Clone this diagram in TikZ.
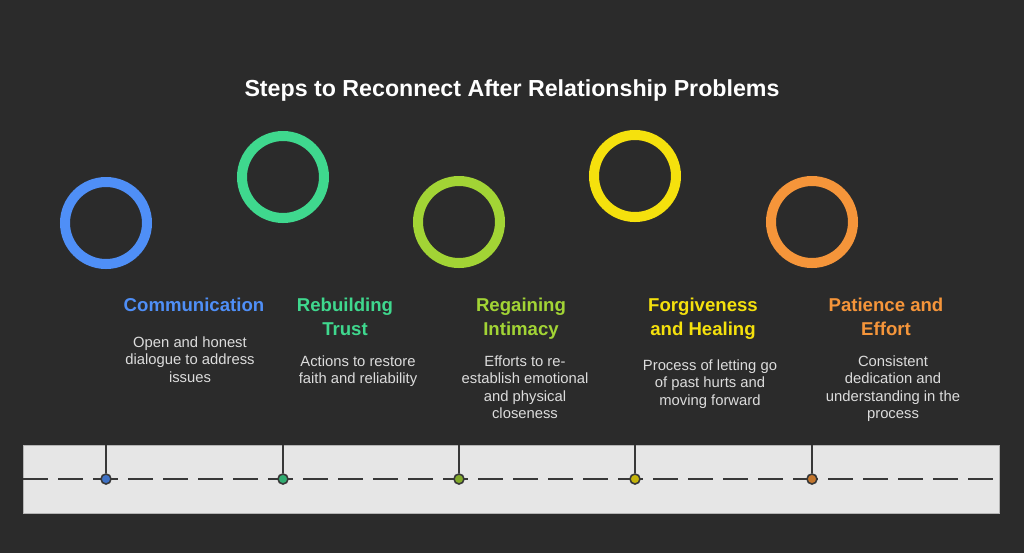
\documentclass[tikz,border=0pt]{standalone}
\usepackage{fontspec}
\setmainfont{Liberation Sans}
\usetikzlibrary{positioning}
\definecolor{bg}{HTML}{2B2B2B}
\definecolor{bandfill}{HTML}{E6E6E6}
\definecolor{bandline}{HTML}{B5B5B5}
\definecolor{pinline}{HTML}{383838}
\definecolor{descgray}{HTML}{DCDCDC}
\definecolor{cblue}{HTML}{4F8FF7}
\definecolor{cgreen}{HTML}{3FD88E}
\definecolor{clime}{HTML}{A2D435}
\definecolor{cyellow}{HTML}{F5E10D}
\definecolor{corange}{HTML}{F5953A}

\begin{document}
\begin{tikzpicture}
		[x=0.5pt, y=-0.5pt,
		ring/.style={circle, draw=#1, line width=5pt, minimum size=41pt, inner sep=0pt},
		head/.style={text=#1, font=\bfseries\fontsize{9.3}{12}\selectfont, align=center, anchor=north, inner sep=0pt},
		desc/.style={text=descgray, font=\fontsize{7.4}{8.75}\selectfont, align=center, anchor=north, inner sep=0pt},
		pin/.style={circle, draw=pinline, fill=#1!80!black, line width=0.8pt, minimum size=5pt, inner sep=0pt}]
		\fill[bg] (0,0) rectangle (1024,553);
		\useasboundingbox (0,0) rectangle (1024,553);
		\node[text=white, font=\bfseries\fontsize{11.6}{13}\selectfont] (title) at (512,90) {Steps to Reconnect After Relationship Problems};
		\node[ring=cblue] (c1) at (106,223) {};
		\node[ring=cgreen] (c2) at (283,177) {};
		\node[ring=clime] (c3) at (459,222) {};
		\node[ring=cyellow] (c4) at (635,176) {};
		\node[ring=corange] (c5) at (812,222) {};
		\node[head=cblue] (h1) at (194,298) {Communication};
		\node[head=cgreen] (h2) at (345,298) {Rebuilding\\Trust};
		\node[head=clime] (h3) at (521,298) {Regaining\\Intimacy};
		\node[head=cyellow] (h4) at (703,298) {Forgiveness\\and Healing};
		\node[head=corange] (h5) at (886,298) {Patience and\\Effort};
		\node[desc] (d1) at (190,336) {Open and honest\\dialogue to address\\issues};
		\node[desc] (d2) at (358,355) {Actions to restore\\faith and reliability};
		\node[desc] (d3) at (525,355) {Efforts to re-\\establish emotional\\and physical\\closeness};
		\node[desc] (d4) at (710,359) {Process of letting go\\of past hurts and\\moving forward};
		\node[desc] (d5) at (893,355) {Consistent\\dedication and\\understanding in the\\process};
		% timeline band
		\draw[fill=bandfill, draw=bandline, line width=0.5pt] (23,445) rectangle (999,513);
		\coordinate (lineL) at (23,479);
		\coordinate (lineR) at (999,479);
		\draw[pinline, line width=1pt, dash pattern=on 12.5pt off 5pt] (lineL) -- (lineR);
		\coordinate (t1) at (106,445);
		\coordinate (t2) at (283,445);
		\coordinate (t3) at (459,445);
		\coordinate (t4) at (635,445);
		\coordinate (t5) at (812,445);
		\node[pin=cblue] (p1) at (106,479) {};
		\node[pin=cgreen] (p2) at (283,479) {};
		\node[pin=clime] (p3) at (459,479) {};
		\node[pin=cyellow] (p4) at (635,479) {};
		\node[pin=corange] (p5) at (812,479) {};
		\draw[pinline, line width=1pt] (t1) -- (p1);
		\draw[pinline, line width=1pt] (t2) -- (p2);
		\draw[pinline, line width=1pt] (t3) -- (p3);
		\draw[pinline, line width=1pt] (t4) -- (p4);
		\draw[pinline, line width=1pt] (t5) -- (p5);
	\end{tikzpicture}
\end{document}
